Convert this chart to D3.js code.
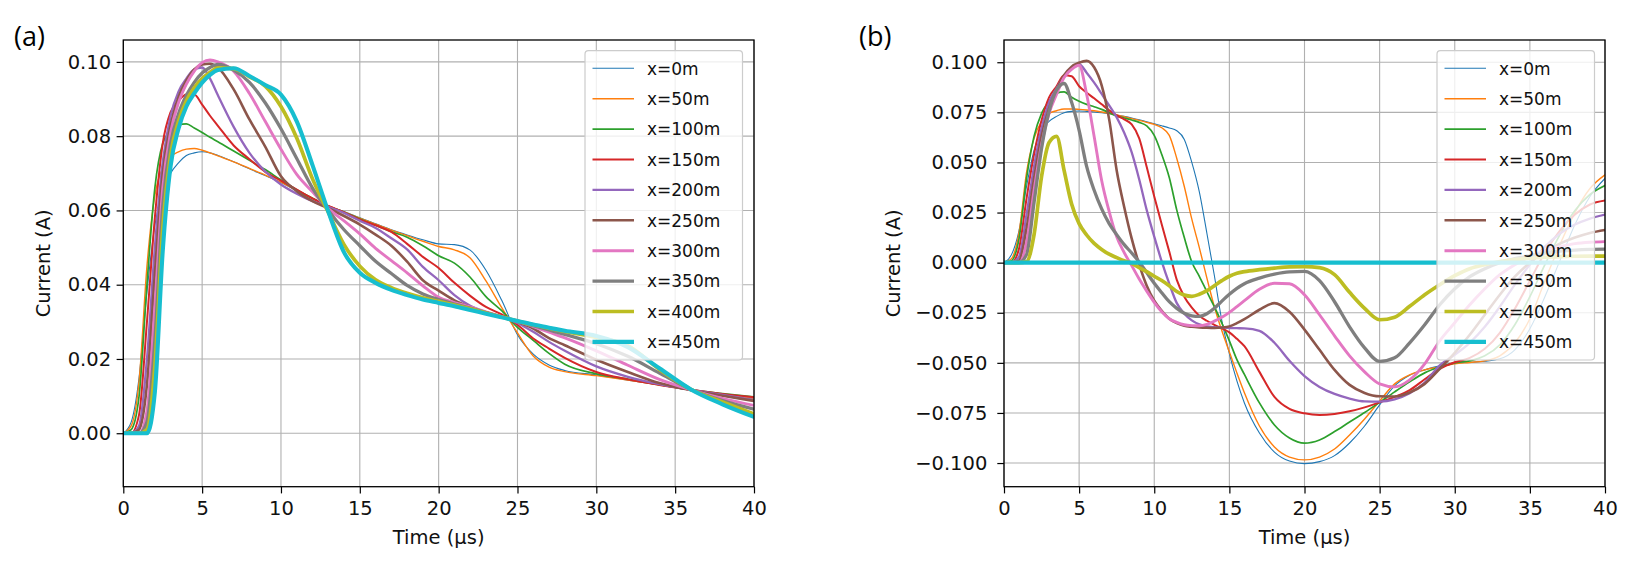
<!DOCTYPE html>
<html><head><meta charset="utf-8">
<script src="https://cdn.jsdelivr.net/npm/d3@7"></script>
<style>body{margin:0;background:#fff} svg{display:block}</style>
</head><body>
<svg id="c" width="1633" height="565"></svg>
<script>
// ---------- data ----------
const LABELS = ["x=0m","x=50m","x=100m","x=150m","x=200m","x=250m","x=300m","x=350m","x=400m","x=450m"];
const X_TICKS = [0,5,10,15,20,25,30,35,40];
const A_Y_TICKS = [0,0.02,0.04,0.06,0.08,0.10];
const B_Y_TICKS = [-0.1,-0.075,-0.05,-0.025,0,0.025,0.05,0.075,0.1];

// Panel (a) time samples (µs)
const T_A = [0,0.5,1,1.5,2,2.5,3,3.5,4,4.5,5,5.5,6,7,8,9,10,11,12,13,14,15,16,17,18,19,20,21,22,23,24,25,26,27,28,30,32,34,36,38,40];
const A_0   = [0,0.003,0.015,0.038,0.056,0.065,0.070,0.0728,0.0748,0.0755,0.0758,0.0755,0.0748,0.0731,0.0712,0.0694,0.0675,0.0653,0.0632,0.0612,0.0597,0.058,0.0564,0.0548,0.0534,0.0521,0.051,0.0508,0.0493,0.0439,0.0358,0.0265,0.0213,0.0184,0.0169,0.0157,0.0143,0.013,0.0117,0.0104,0.0092];
const A_50  = [0,0.002,0.014,0.045,0.064,0.0715,0.0745,0.0758,0.0765,0.0767,0.0762,0.0755,0.0747,0.0731,0.0713,0.0695,0.0676,0.0654,0.0633,0.0612,0.0596,0.0579,0.0563,0.0547,0.0532,0.0517,0.0503,0.0494,0.0472,0.041,0.0338,0.027,0.0208,0.0178,0.0166,0.0155,0.0143,0.013,0.0117,0.0105,0.0093];
const A_100 = [0,0.001,0.01,0.04,0.066,0.078,0.0815,0.083,0.0833,0.0822,0.081,0.0797,0.0785,0.076,0.0735,0.071,0.0682,0.0656,0.0633,0.0612,0.0595,0.0577,0.056,0.0543,0.0528,0.0505,0.0478,0.0458,0.042,0.0368,0.033,0.0285,0.025,0.0215,0.0186,0.016,0.0146,0.0131,0.0117,0.0107,0.0098];
const A_150 = [0,0,0.005,0.03,0.058,0.078,0.0865,0.0895,0.0912,0.0912,0.0885,0.0855,0.0828,0.0775,0.0738,0.0704,0.068,0.0656,0.0632,0.0612,0.0595,0.0575,0.056,0.0542,0.051,0.0475,0.0445,0.0405,0.037,0.034,0.032,0.0292,0.0255,0.0228,0.0203,0.0165,0.0145,0.013,0.0117,0.0106,0.0097];
const A_200 = [0,0,0.002,0.02,0.05,0.073,0.0855,0.092,0.0955,0.098,0.0985,0.0955,0.091,0.0825,0.0755,0.0705,0.067,0.0645,0.0625,0.061,0.0593,0.0572,0.0553,0.0525,0.0495,0.0448,0.0412,0.0372,0.0343,0.0326,0.0314,0.0297,0.0273,0.0246,0.0222,0.018,0.0152,0.0132,0.0117,0.0103,0.009];
const A_250 = [0,0,0.001,0.013,0.043,0.07,0.083,0.0905,0.095,0.098,0.0993,0.0995,0.0985,0.0926,0.0845,0.0772,0.0692,0.0652,0.0625,0.0606,0.0585,0.0562,0.0535,0.0505,0.0462,0.0412,0.0384,0.0358,0.034,0.0325,0.0313,0.03,0.0282,0.0256,0.0237,0.0198,0.0165,0.0135,0.0116,0.0101,0.0087];
const A_300 = [0,0,0,0.006,0.034,0.066,0.081,0.089,0.094,0.0975,0.0998,0.1005,0.1,0.0975,0.0915,0.084,0.0765,0.0697,0.065,0.0605,0.0572,0.0537,0.0498,0.0465,0.0432,0.0397,0.0366,0.0352,0.034,0.0327,0.0314,0.0302,0.0287,0.0272,0.0257,0.0222,0.0183,0.0145,0.0117,0.0094,0.0075];
const A_350 = [0,0,0,0.003,0.025,0.061,0.078,0.086,0.091,0.0945,0.097,0.0985,0.0993,0.0978,0.0945,0.089,0.082,0.074,0.066,0.060,0.0548,0.0505,0.0463,0.043,0.0398,0.0375,0.036,0.0348,0.0337,0.0325,0.0313,0.0302,0.029,0.0278,0.0266,0.0241,0.0207,0.0162,0.0118,0.0088,0.0065];
const A_400 = [0,0,0,0.001,0.018,0.055,0.075,0.084,0.0895,0.093,0.0955,0.0972,0.0984,0.0982,0.096,0.0935,0.088,0.0795,0.0685,0.0595,0.0508,0.045,0.0413,0.0392,0.0377,0.0365,0.0355,0.0345,0.0335,0.0324,0.0313,0.0302,0.0292,0.0283,0.0274,0.0258,0.0236,0.0172,0.0118,0.0084,0.0052];
const A_450 = [0,0,0,0,0.011,0.049,0.072,0.082,0.088,0.0915,0.0944,0.0965,0.0978,0.0983,0.0962,0.0938,0.0912,0.084,0.0722,0.0597,0.0487,0.0432,0.0405,0.0386,0.0372,0.036,0.0351,0.0342,0.0332,0.0322,0.0312,0.0302,0.0293,0.0284,0.0276,0.0262,0.0232,0.0175,0.0118,0.0078,0.0044];

// Panel (b) time samples (µs)
const T_B = [0,0.5,1,1.5,2,2.5,3,3.5,4,4.5,5,5.5,6,6.5,7,7.5,8,8.5,9,9.5,10,10.5,11,11.5,12,12.5,13,13.5,14,14.5,15,15.5,16,17,18,19,20,21,22,23,24,25,26,27,28,29,30,31,32,33,34,35,36,37,38,39,40];
const B_0   = [0,0.004,0.016,0.038,0.056,0.066,0.0705,0.073,0.0748,0.0755,0.0757,0.0755,0.0752,0.0748,0.0743,0.0737,0.073,0.0722,0.0713,0.0703,0.0693,0.0683,0.0672,0.0658,0.0615,0.050,0.0353,0.0148,-0.0064,-0.029,-0.0454,-0.059,-0.070,-0.085,-0.0945,-0.099,-0.1003,-0.0993,-0.0963,-0.090,-0.0815,-0.071,-0.0615,-0.0562,-0.0535,-0.0515,-0.0502,-0.0497,-0.0492,-0.048,-0.0435,-0.033,-0.017,0.001,0.019,0.033,0.042];
const B_50  = [0,0.002,0.015,0.045,0.062,0.0705,0.0745,0.0758,0.0767,0.0767,0.0765,0.0762,0.0758,0.0752,0.0745,0.0737,0.0728,0.0719,0.071,0.070,0.069,0.0673,0.0635,0.052,0.038,0.0217,0.0075,-0.0076,-0.022,-0.034,-0.0446,-0.055,-0.0649,-0.0815,-0.092,-0.097,-0.0984,-0.097,-0.093,-0.086,-0.078,-0.069,-0.0605,-0.056,-0.0535,-0.052,-0.0505,-0.0498,-0.049,-0.0465,-0.040,-0.028,-0.009,0.009,0.025,0.037,0.0438];
const B_100 = [0,0.001,0.012,0.042,0.063,0.0745,0.0805,0.0845,0.0852,0.0825,0.0805,0.079,0.0778,0.0765,0.0748,0.0732,0.0722,0.0712,0.070,0.0682,0.0635,0.054,0.0425,0.0262,0.0125,0.0003,-0.0068,-0.0145,-0.022,-0.0302,-0.039,-0.0484,-0.0558,-0.070,-0.081,-0.0875,-0.0901,-0.0885,-0.0843,-0.0795,-0.0748,-0.0697,-0.0645,-0.0595,-0.055,-0.0521,-0.050,-0.049,-0.0465,-0.041,-0.031,-0.017,-0.001,0.014,0.026,0.034,0.0385];
const B_150 = [0,0,0.007,0.032,0.054,0.071,0.0825,0.088,0.0935,0.093,0.088,0.0848,0.082,0.079,0.076,0.0735,0.0715,0.069,0.062,0.0477,0.033,0.019,0.0055,-0.0086,-0.017,-0.0225,-0.0265,-0.029,-0.031,-0.0328,-0.0348,-0.038,-0.0417,-0.0545,-0.067,-0.073,-0.0752,-0.076,-0.0755,-0.0742,-0.0722,-0.0697,-0.067,-0.0636,-0.0582,-0.053,-0.0497,-0.0475,-0.043,-0.035,-0.023,-0.009,0.005,0.016,0.024,0.029,0.031];
const B_200 = [0,0,0.003,0.024,0.048,0.067,0.080,0.087,0.093,0.097,0.099,0.0948,0.0898,0.0842,0.0785,0.0725,0.0648,0.055,0.0415,0.0262,0.013,0.0005,-0.0105,-0.0202,-0.0255,-0.0288,-0.0308,-0.0318,-0.0322,-0.0324,-0.0326,-0.0327,-0.0328,-0.034,-0.040,-0.049,-0.0566,-0.062,-0.0655,-0.0678,-0.0692,-0.0693,-0.0682,-0.0652,-0.0598,-0.0513,-0.046,-0.040,-0.032,-0.022,-0.011,-0.001,0.008,0.0145,0.019,0.022,0.024];
const B_250 = [0,0,0.001,0.017,0.042,0.063,0.077,0.086,0.0935,0.0978,0.0998,0.1007,0.0975,0.0885,0.0715,0.046,0.0278,0.012,-0.001,-0.0115,-0.019,-0.024,-0.028,-0.0302,-0.0315,-0.032,-0.0323,-0.0325,-0.0326,-0.0324,-0.0318,-0.0302,-0.0282,-0.0235,-0.0202,-0.0245,-0.0334,-0.0435,-0.0535,-0.061,-0.065,-0.0667,-0.0668,-0.0648,-0.0605,-0.053,-0.045,-0.036,-0.026,-0.016,-0.007,0,0.0055,0.0095,0.0125,0.0148,0.0163];
const B_300 = [0,0,0,0.01,0.036,0.059,0.0745,0.084,0.0924,0.0965,0.0985,0.084,0.063,0.041,0.0255,0.0129,0.005,-0.0015,-0.0082,-0.0142,-0.0198,-0.0245,-0.028,-0.0298,-0.031,-0.0314,-0.0315,-0.0308,-0.0292,-0.0273,-0.0248,-0.0219,-0.019,-0.0133,-0.0103,-0.0105,-0.016,-0.026,-0.0365,-0.0465,-0.0545,-0.0605,-0.062,-0.0585,-0.0505,-0.039,-0.03,-0.021,-0.013,-0.006,-0.001,0.003,0.006,0.008,0.0095,0.0102,0.0105];
const B_350 = [0,0,0,0.004,0.03,0.057,0.0755,0.0862,0.0894,0.080,0.066,0.048,0.0361,0.0268,0.0195,0.014,0.009,0.0048,0.0003,-0.005,-0.0103,-0.015,-0.0195,-0.0228,-0.0252,-0.0265,-0.0268,-0.0255,-0.0228,-0.0192,-0.0158,-0.0128,-0.0105,-0.0077,-0.0057,-0.0046,-0.0044,-0.009,-0.0195,-0.032,-0.0425,-0.0493,-0.0475,-0.040,-0.031,-0.021,-0.013,-0.007,-0.003,0,0.002,0.0035,0.0048,0.0057,0.0063,0.0066,0.0067];
const B_400 = [0,0,0,0.0005,0.014,0.043,0.060,0.063,0.046,0.0293,0.0195,0.0138,0.0096,0.0066,0.0042,0.0025,0.0009,-0.0003,-0.0025,-0.0045,-0.0068,-0.0089,-0.0115,-0.0144,-0.0162,-0.0168,-0.0158,-0.014,-0.0115,-0.009,-0.0068,-0.0053,-0.0045,-0.0035,-0.0027,-0.0021,-0.002,-0.0025,-0.006,-0.0148,-0.0228,-0.0285,-0.0272,-0.0218,-0.016,-0.011,-0.0065,-0.003,-0.001,0.0005,0.0015,0.0022,0.0027,0.003,0.0032,0.0033,0.0033];
const B_450 = [0,0,0,0,0,0,0,0,0,0,0,0,0,0,0,0,0,0,0,0,0,0,0,0,0,0,0,0,0,0,0,0,0,0,0,0,0,0,0,0,0,0,0,0,0,0,0,0,0,0,0,0,0,0,0,0,0];

// ---------- styles ----------
const COLORS = ["#1f77b4","#ff7f0e","#2ca02c","#d62728","#9467bd","#8c564b","#e377c2","#7f7f7f","#bcbd22","#17becf"];
const WIDTHS = [1.1,1.4,1.7,2.0,2.3,2.6,2.9,3.3,3.7,4.1];
const FONT = "'DejaVu Sans', sans-serif";

const svg = d3.select("#c");

function panel(o) {
  const g = svg.append("g");
  const x = d3.scaleLinear().domain([0, 40]).range([o.x0, o.x1]);
  const y = d3.scaleLinear().domain(o.ydom).range([o.y1, o.y0]);

  // grid
  g.append("g").selectAll("line").data(X_TICKS).join("line")
    .attr("x1", d => x(d)).attr("x2", d => x(d)).attr("y1", o.y0).attr("y2", o.y1)
    .attr("stroke", "#b0b0b0").attr("stroke-width", 1.1);
  g.append("g").selectAll("line").data(o.yticks).join("line")
    .attr("y1", d => y(d)).attr("y2", d => y(d)).attr("x1", o.x0).attr("x2", o.x1)
    .attr("stroke", "#b0b0b0").attr("stroke-width", 1.1);

  // clip
  const cid = "clip" + o.id;
  svg.append("clipPath").attr("id", cid).append("rect")
    .attr("x", o.x0).attr("y", o.y0).attr("width", o.x1 - o.x0).attr("height", o.y1 - o.y0);

  const lines = g.append("g").attr("clip-path", `url(#${cid})`);
  o.series.forEach((vals, i) => {
    const line = d3.line().x((d, j) => x(o.t[j])).y(d => y(d)).curve(d3.curveMonotoneX);
    lines.append("path").attr("d", line(vals)).attr("fill", "none")
      .attr("stroke", COLORS[i]).attr("stroke-width", WIDTHS[i])
      .attr("stroke-linejoin", "round").attr("stroke-linecap", "square");
  });

  // axes
  const xa = g.append("g").attr("transform", `translate(0,${o.y1})`)
    .call(d3.axisBottom(x).tickValues(X_TICKS).tickSize(6.7).tickPadding(7.5).tickFormat(d3.format("d")));
  const ya = g.append("g").attr("transform", `translate(${o.x0},0)`)
    .call(d3.axisLeft(y).tickValues(o.yticks).tickSize(6.7).tickPadding(o.ypad).tickFormat(d3.format(o.yfmt)));
  [xa, ya].forEach(a => {
    a.select(".domain").remove();
    a.attr("font-family", FONT).attr("font-size", 19.5);
    a.selectAll(".tick line").attr("stroke", "#000").attr("stroke-width", 1.2);
    a.selectAll(".tick text").attr("fill", "#111");
  });

  // spines
  g.append("rect").attr("x", o.x0).attr("y", o.y0).attr("width", o.x1 - o.x0).attr("height", o.y1 - o.y0)
    .attr("fill", "none").attr("stroke", "#000").attr("stroke-width", 1.3);

  // axis labels
  g.append("text").attr("x", (o.x0 + o.x1) / 2).attr("y", 544).attr("text-anchor", "middle")
    .attr("font-family", FONT).attr("font-size", 19.5).attr("fill", "#111").text("Time (µs)");
  g.append("text").attr("transform", `translate(${o.ylabx},${(o.y0 + o.y1) / 2}) rotate(-90)`)
    .attr("text-anchor", "middle").attr("font-family", FONT).attr("font-size", 19.5).attr("fill", "#111")
    .text("Current (A)");

  // panel tag
  svg.append("text").attr("x", o.tagx).attr("y", 46).attr("font-family", "'Open Sans', 'Liberation Sans', sans-serif")
    .attr("font-size", 27).attr("fill", "#000").text(o.tag);

  // legend
  const lg = g.append("g");
  const lx = o.legx, ly = 50.7, lw = 157.5, lh = 309.3;
  lg.append("rect").attr("x", lx).attr("y", ly).attr("width", lw).attr("height", lh).attr("rx", 3.5)
    .attr("fill", "#fff").attr("fill-opacity", 0.8).attr("stroke", "#cccccc").attr("stroke-width", 1.2);
  LABELS.forEach((lab, i) => {
    const cy = ly + 17.6 + i * 30.4;
    lg.append("line").attr("x1", lx + 7.5).attr("x2", lx + 49).attr("y1", cy).attr("y2", cy)
      .attr("stroke", COLORS[i]).attr("stroke-width", WIDTHS[i]);
    lg.append("text").attr("x", lx + 62).attr("y", cy + 6.2).attr("font-family", FONT)
      .attr("font-size", 17).attr("fill", "#111").text(lab);
  });
}

panel({
  id: "a", tag: "(a)", tagx: 14, x0: 123.3, x1: 754, y0: 40, y1: 486.7,
  ydom: [-0.0144, 0.1059], yticks: A_Y_TICKS, yfmt: ".2f", ypad: 5.5, ylabx: 50,
  legx: 585, t: T_A,
  series: [A_0, A_50, A_100, A_150, A_200, A_250, A_300, A_350, A_400, A_450]
});
panel({
  id: "b", tag: "(b)", tagx: 859, x0: 1004, x1: 1605, y0: 40, y1: 486.7,
  ydom: [-0.1118, 0.1111], yticks: B_Y_TICKS, yfmt: ".3f", ypad: 10, ylabx: 900,
  legx: 1437, t: T_B,
  series: [B_0, B_50, B_100, B_150, B_200, B_250, B_300, B_350, B_400, B_450]
});
</script>
</body></html>
